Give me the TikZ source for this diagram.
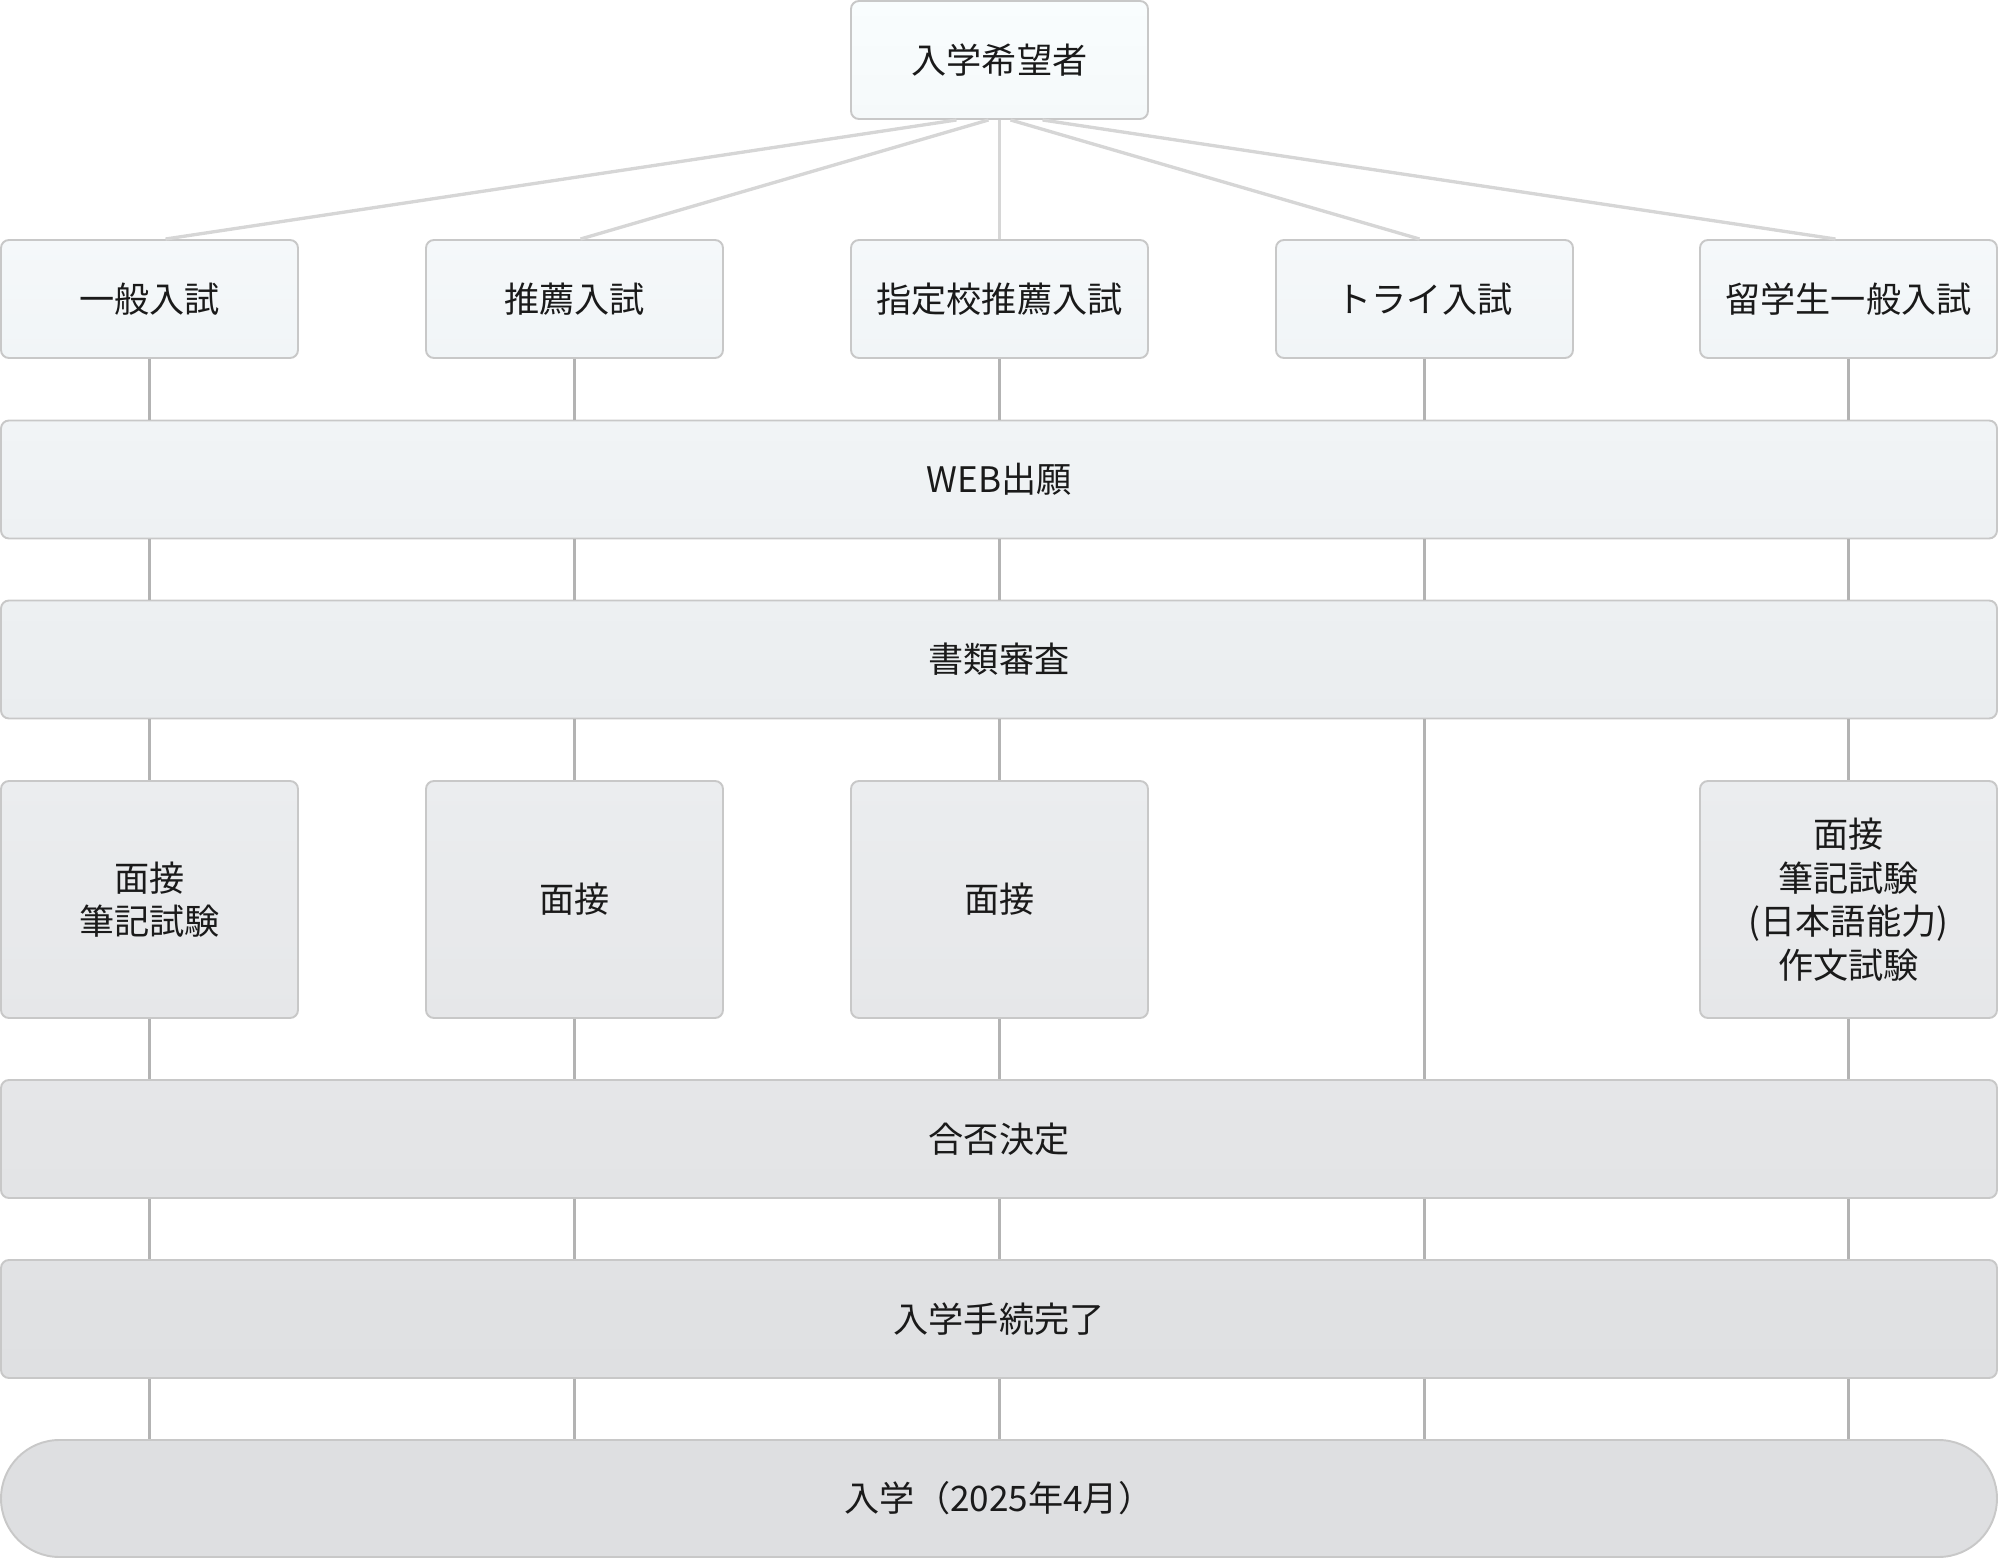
\documentclass[tikz,border=0pt]{standalone}
\usepackage{fontspec}
\setmainfont{Noto Sans CJK JP}
\usepackage{xcolor}
\usepackage{tikz}
\usetikzlibrary{calc,shapes.misc}
\definecolor{edgegray}{HTML}{C8C8C8}
\definecolor{fangray}{HTML}{D6D6D6}
\definecolor{stemgray}{HTML}{B3B3B3}
\definecolor{inkgray}{HTML}{1A1A1A}
\definecolor{tintA}{HTML}{F9FDFE}
\definecolor{tintB}{HTML}{F5F9FA}
\definecolor{tintC}{HTML}{F5F8FA}
\definecolor{tintD}{HTML}{F1F5F7}
\definecolor{tintE}{HTML}{F1F4F6}
\definecolor{tintF}{HTML}{EEF1F3}
\definecolor{tintG}{HTML}{EDF0F2}
\definecolor{tintH}{HTML}{EAEDEF}
\definecolor{tintI}{HTML}{EBEDEF}
\definecolor{tintJ}{HTML}{E6E7E9}
\definecolor{tintK}{HTML}{E5E6E8}
\definecolor{tintL}{HTML}{E3E4E6}
\definecolor{tintM}{HTML}{E1E2E4}
\definecolor{tintN}{HTML}{DFE0E2}
\definecolor{tintO}{HTML}{DEDFE1}
\tikzset{
  box/.style={draw=edgegray, line width=0.55pt, rounded corners=0.8mm, align=center, text=inkgray, font=\fontsize{10}{12.4}\selectfont, minimum width=29.7mm, minimum height=11.8mm, inner sep=0pt},
  widebox/.style={box, minimum width=199.6mm},
  exambox/.style={box, minimum height=23.7mm, top color=tintI, bottom color=tintJ},
  endbox/.style={box, rounded rectangle, sharp corners, minimum width=199.6mm, minimum height=11.7mm, fill=tintO},
  fan/.style={draw=fangray, line width=0.95pt},
  stem/.style={draw=stemgray, line width=1.1pt}
}

\begin{document}
\begin{tikzpicture}[x=0.1mm,y=-0.1mm]
  \useasboundingbox (0,0) rectangle (2000,1560);
  \node[box, top color=tintA, bottom color=tintB] (seeker) at (999.5,60) {入学希望者};
  \node[box, top color=tintC, bottom color=tintD] (ippan) at (149.5,299) {一般入試};
  \node[box, top color=tintC, bottom color=tintD] (suisen) at (574.5,299) {推薦入試};
  \node[box, top color=tintC, bottom color=tintD] (shitei) at (999.5,299) {指定校推薦入試};
  \node[box, top color=tintC, bottom color=tintD] (try) at (1424.5,299) {トライ入試};
  \node[box, top color=tintC, bottom color=tintD] (ryugaku) at (1848.5,299) {留学生一般入試};
  \node[widebox, top color=tintE, bottom color=tintF] (web) at (999,479.5) {WEB出願};
  \node[widebox, top color=tintG, bottom color=tintH] (shorui) at (999,659.5) {書類審査};
  \node[exambox] (examIppan) at (149.5,899.5) {面接\\筆記試験};
  \node[exambox] (examSuisen) at (574.5,899.5) {面接};
  \node[exambox] (examShitei) at (999.5,899.5) {面接};
  \node[exambox] (examRyugaku) at (1848.5,899.5) {面接\\筆記試験\\(日本語能力)\\作文試験};
  \node[widebox, top color=tintK, bottom color=tintL] (gohi) at (999,1139) {合否決定};
  \node[widebox, top color=tintM, bottom color=tintN] (tetsuzuki) at (999,1319) {入学手続完了};
  \node[endbox] (nyugaku) at (999,1498.5) {入学（2025年4月）};

  % fan out from the applicant
  \draw[fan] ([xshift=-4.3mm]seeker.south) -- ([xshift=1.6mm]ippan.north);
  \draw[fan] ([xshift=-1.1mm]seeker.south) -- ([xshift=0.6mm]suisen.north);
  \draw[fan] (seeker.south) -- (shitei.north);
  \draw[fan] ([xshift=1.1mm]seeker.south) -- ([xshift=-0.5mm]try.north);
  \draw[fan] ([xshift=4.3mm]seeker.south) -- ([xshift=-1.3mm]ryugaku.north);

  % column stems
  \draw[stem] (ippan.south) -- (ippan |- web.north) (suisen.south) -- (suisen |- web.north)
    (shitei.south) -- (shitei |- web.north) (try.south) -- (try |- web.north)
    (ryugaku.south) -- (ryugaku |- web.north);
  \draw[stem] (ippan |- web.south) -- (ippan |- shorui.north) (suisen |- web.south) -- (suisen |- shorui.north)
    (shitei |- web.south) -- (shitei |- shorui.north) (try |- web.south) -- (try |- shorui.north)
    (ryugaku |- web.south) -- (ryugaku |- shorui.north);
  \draw[stem] (ippan |- shorui.south) -- (examIppan.north) (suisen |- shorui.south) -- (examSuisen.north)
    (shitei |- shorui.south) -- (examShitei.north) (try |- shorui.south) -- (try |- gohi.north)
    (ryugaku |- shorui.south) -- (examRyugaku.north);
  \draw[stem] (examIppan.south) -- (examIppan |- gohi.north) (examSuisen.south) -- (examSuisen |- gohi.north)
    (examShitei.south) -- (examShitei |- gohi.north) (examRyugaku.south) -- (examRyugaku |- gohi.north);
  \draw[stem] (ippan |- gohi.south) -- (ippan |- tetsuzuki.north) (suisen |- gohi.south) -- (suisen |- tetsuzuki.north)
    (shitei |- gohi.south) -- (shitei |- tetsuzuki.north) (try |- gohi.south) -- (try |- tetsuzuki.north)
    (ryugaku |- gohi.south) -- (ryugaku |- tetsuzuki.north);
  \draw[stem] (ippan |- tetsuzuki.south) -- (ippan |- nyugaku.north) (suisen |- tetsuzuki.south) -- (suisen |- nyugaku.north)
    (shitei |- tetsuzuki.south) -- (shitei |- nyugaku.north) (try |- tetsuzuki.south) -- (try |- nyugaku.north)
    (ryugaku |- tetsuzuki.south) -- (ryugaku |- nyugaku.north);
\end{tikzpicture}
\end{document}
